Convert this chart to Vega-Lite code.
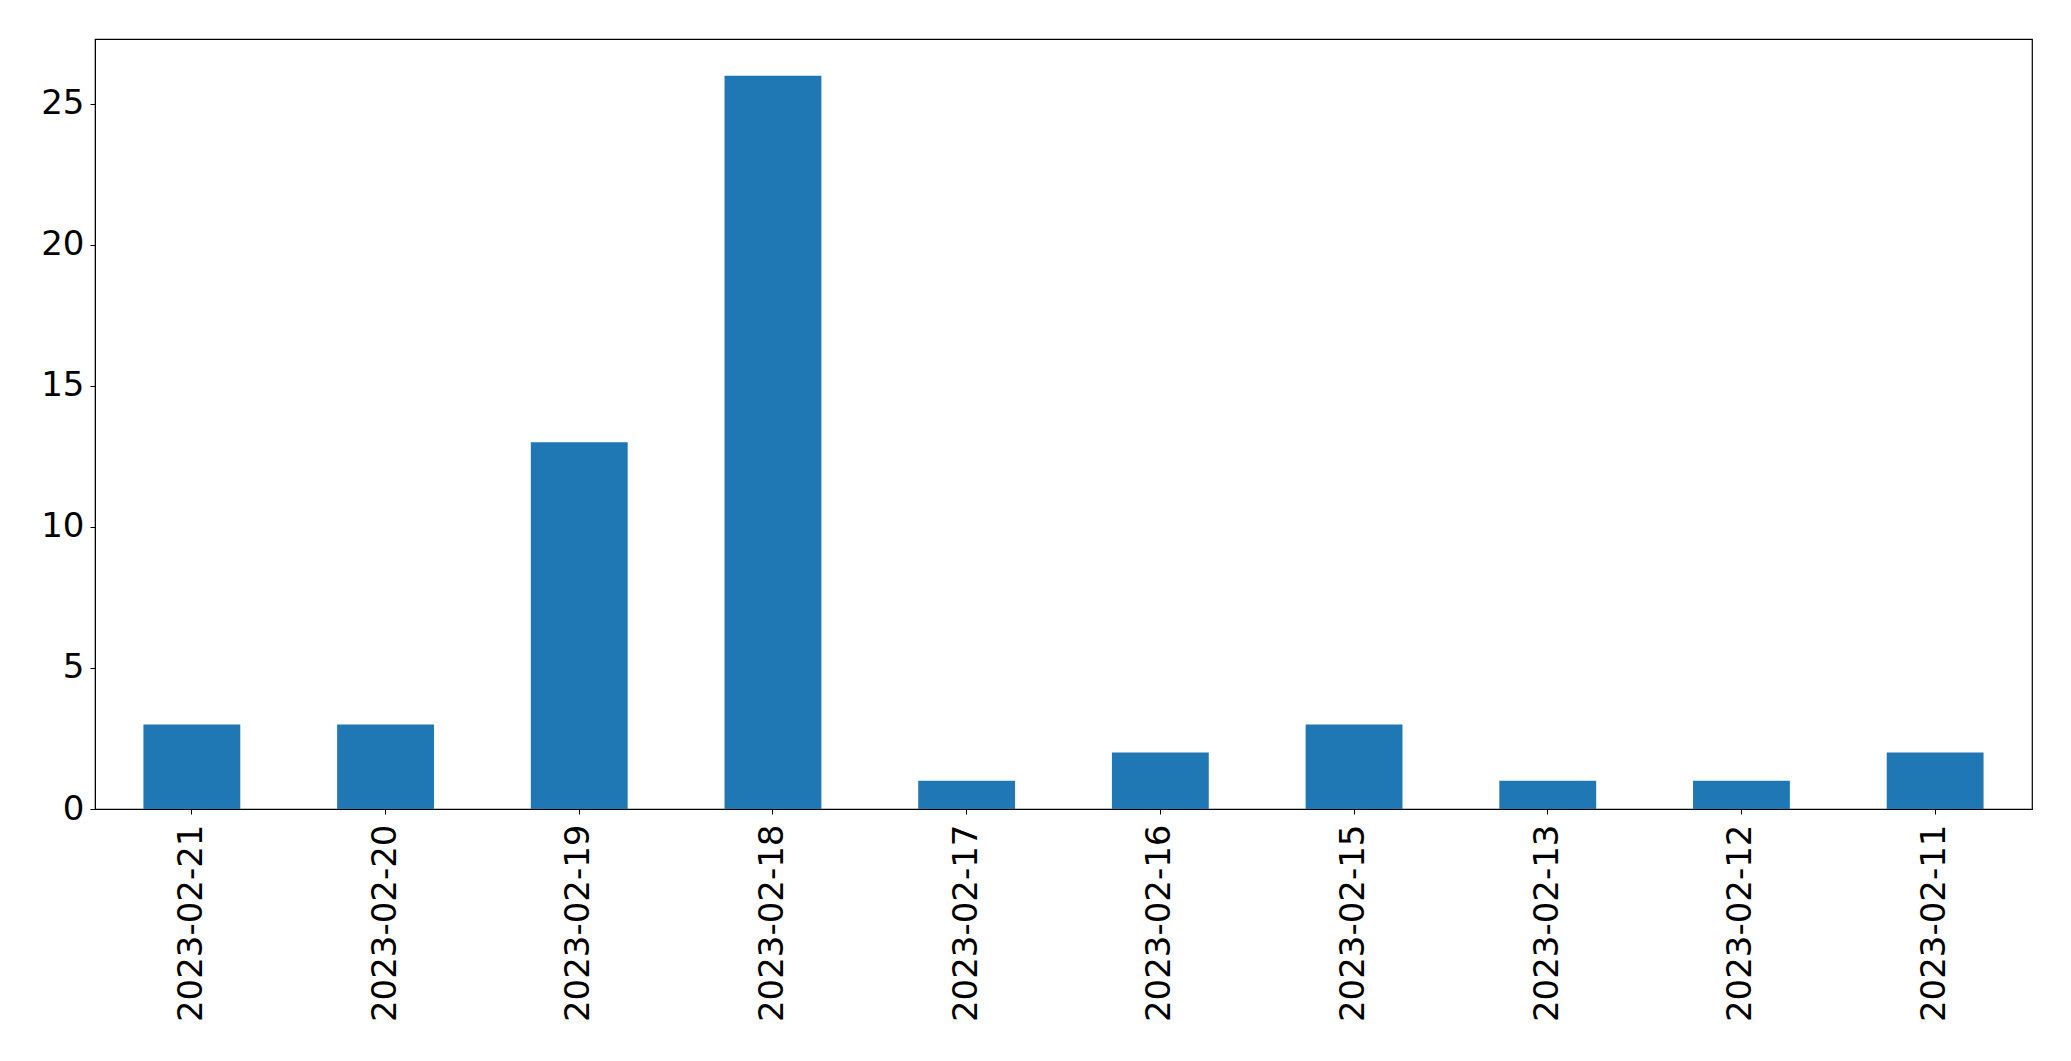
{
  "$schema": "https://vega.github.io/schema/vega-lite/v6.json",
  "autosize": "none",
  "width": 1937,
  "height": 770,
  "padding": {"left": 95, "top": 39, "right": 39, "bottom": 252},
  "background": "white",
  "data": {
    "values": [
      {"date": "2023-02-21", "count": 3},
      {"date": "2023-02-20", "count": 3},
      {"date": "2023-02-19", "count": 13},
      {"date": "2023-02-18", "count": 26},
      {"date": "2023-02-17", "count": 1},
      {"date": "2023-02-16", "count": 2},
      {"date": "2023-02-15", "count": 3},
      {"date": "2023-02-13", "count": 1},
      {"date": "2023-02-12", "count": 1},
      {"date": "2023-02-11", "count": 2}
    ]
  },
  "mark": {"type": "bar", "color": "#1f77b4"},
  "encoding": {
    "x": {
      "field": "date",
      "type": "nominal",
      "sort": null,
      "scale": {"paddingInner": 0.5, "paddingOuter": 0.25},
      "axis": {
        "title": null,
        "labelAngle": -90,
        "labelAlign": "right",
        "labelBaseline": "middle",
        "labelFont": "DejaVu Sans",
        "labelFontSize": 34,
        "labelColor": "black",
        "labelLimit": 0,
        "labelPadding": 10,
        "tickColor": "black",
        "tickSize": 5,
        "domainColor": "black",
        "grid": false
      }
    },
    "y": {
      "field": "count",
      "type": "quantitative",
      "scale": {"domain": [0, 27.3], "nice": false, "zero": true},
      "axis": {
        "title": null,
        "values": [0, 5, 10, 15, 20, 25],
        "labelFont": "DejaVu Sans",
        "labelFontSize": 34,
        "labelColor": "black",
        "labelPadding": 6,
        "tickColor": "black",
        "tickSize": 5,
        "domainColor": "black",
        "grid": false
      }
    }
  },
  "config": {
    "view": {"stroke": "black", "strokeWidth": 1.2}
  }
}
